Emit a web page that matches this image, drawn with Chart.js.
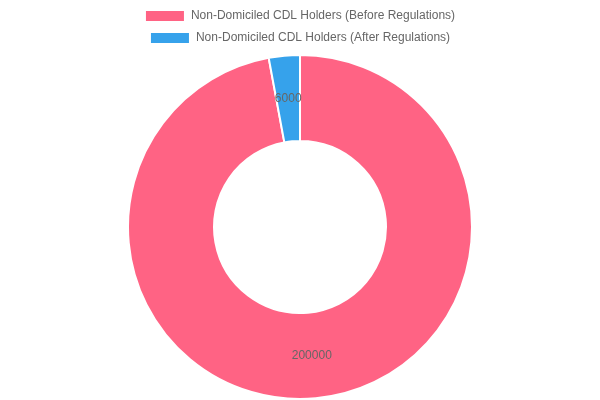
<!DOCTYPE html>
<html>
<head>
<meta charset="utf-8">
<script src="https://cdn.jsdelivr.net/npm/chart.js@4/dist/chart.umd.min.js"></script>
<style>
  html, body { margin: 0; padding: 0; background: #fff; }
  #wrap { width: 600px; height: 400px; }
</style>
</head>
<body>
<div id="wrap"><canvas id="chart"></canvas></div>
<script>
const labels = ["Non-Domiciled CDL Holders (Before Regulations)", "Non-Domiciled CDL Holders (After Regulations)"];
const values = [200000, 6000];
const colors = ["#ff6384", "#36a2eb"];

// draws each slice's value at its middle
const valueLabels = {
  id: "valueLabels",
  afterDatasetsDraw(chart) {
    const ctx = chart.ctx;
    const meta = chart.getDatasetMeta(0);
    ctx.save();
    ctx.font = "12px 'Liberation Sans', Arial, sans-serif";
    ctx.fillStyle = "#666";
    ctx.textAlign = "center";
    ctx.textBaseline = "middle";
    meta.data.forEach((arc, i) => {
      const p = arc.tooltipPosition();
      ctx.fillText(String(values[i]), p.x, p.y);
    });
    ctx.restore();
  }
};

new Chart(document.getElementById("chart"), {
  type: "doughnut",
  data: {
    labels: labels,
    datasets: [{ data: values, backgroundColor: colors, borderColor: "#fff", borderWidth: 2 }]
  },
  options: {
    responsive: true,
    maintainAspectRatio: false,
    animation: false,
    cutout: "50%",
    plugins: {
      legend: {
        position: "top",
        labels: { boxWidth: 40, color: "#666", font: { size: 12, family: "'Liberation Sans', Arial, sans-serif" } }
      },
      tooltip: { enabled: false }
    }
  },
  plugins: [valueLabels]
});
</script>
</body>
</html>
